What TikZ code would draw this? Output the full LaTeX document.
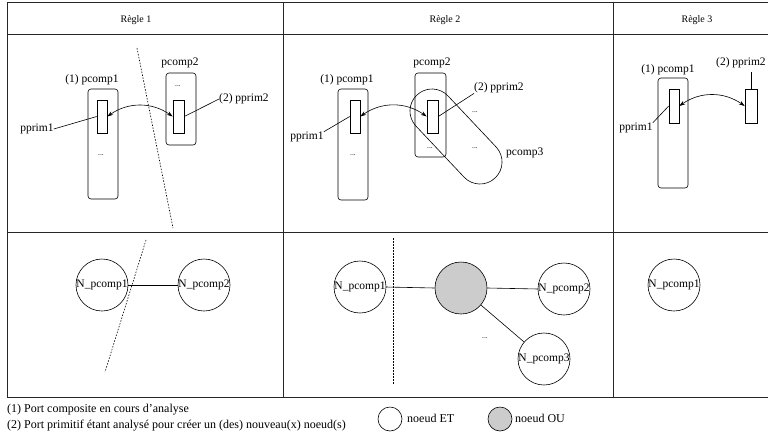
\documentclass[tikz,border=0pt]{standalone}
\usepackage{fontspec}
\setmainfont{Liberation Serif}
\usetikzlibrary{arrows.meta}
\begin{document}
\begin{tikzpicture}[x=1pt,y=-1pt,
  frame/.style={draw=black!85, line width=0.9pt},
  comp/.style={draw, rounded corners=3pt, inner sep=0pt, line width=0.6pt},
  prim/.style={draw, inner sep=0pt, line width=0.6pt},
  lbl/.style={inner sep=0pt, font=\fontsize{11.5}{13}\selectfont},
  hdr/.style={inner sep=0pt, font=\fontsize{10}{12}\selectfont},
  leg/.style={inner sep=0pt, font=\fontsize{12}{14}\selectfont, anchor=west},
  dots/.style={inner sep=0pt, font=\fontsize{7.5}{8}\selectfont},
  lead/.style={line width=0.6pt},
  sep/.style={line width=0.6pt, dash pattern=on 1.5pt off 1.5pt},
  link/.style={line width=0.6pt, {Stealth[length=6pt,width=4pt]}-{Stealth[length=6pt,width=4pt]}, bend left=35},
  etn/.style={draw, circle, minimum size=52pt, inner sep=0pt, line width=0.6pt},
  oun/.style={etn, fill=black!20},
  ntxt/.style={inner sep=0pt, font=\fontsize{11.5}{13}\selectfont},
  edge/.style={line width=0.6pt}
]
\useasboundingbox (0,0) rectangle (768,437);
\begin{scope}
\clip (0,0) rectangle (768,437);
% frame
\draw[frame] (772,2) -- (7,2) -- (7,397) -- (772,397);
\draw[frame] (7,34) -- (772,34);
\draw[frame] (7,232) -- (772,232);
\draw[frame] (283,2) -- (283,397);
\draw[frame] (613,2) -- (613,397);
\end{scope}
\node[hdr] (h1) at (136,20) {Règle 1};
\node[hdr] (h2) at (445,20) {Règle 2};
\node[hdr] (h3) at (697,20) {Règle 3};

% ---------- Rule 1 top
\node[comp, minimum width=30pt, minimum height=110pt] (r1c1) at (103,144) {};
\node[prim, minimum width=10pt, minimum height=33pt] (r1p1) at (102,116.5) {};
\node[comp, minimum width=30pt, minimum height=72pt] (r1c2) at (181,109) {};
\node[prim, minimum width=11pt, minimum height=33pt] (r1p2) at (178.5,116.5) {};
\node[dots] (r1d1) at (101,155) {...};
\node[dots] (r1d2) at (178,86) {...};
\node[lbl] (r1l1) at (92,80) {(1) pcomp1};
\node[lbl] (r1l2) at (180,63) {pcomp2};
\node[lbl, anchor=west] (r1l3) at (219,99) {(2) pprim2};
\node[lbl] (r1l4) at (37,129) {pprim1};
\draw[lead] (r1l4.east) -- (r1p1.west);
\draw[lead] (r1p2.east) -- (r1l3.west);
\draw[link] (r1p1.east) to (r1p2.west);
\coordinate (r1s1) at (137,48);
\coordinate (r1s2) at (173,228);
\draw[sep] (r1s1) -- (r1s2);

% ---------- Rule 2 top
\node[comp, minimum width=30pt, minimum height=111pt] (r2c1) at (353,144.5) {};
\node[prim, minimum width=10pt, minimum height=33pt] (r2p1) at (355,116.5) {};
\node[comp, minimum width=31pt, minimum height=84pt] (r2c2) at (430.5,115) {};
\node[prim, minimum width=11pt, minimum height=33pt] (r2p2) at (432.5,116.5) {};
\node[draw, rounded corners=21.9pt, minimum width=114pt, minimum height=44pt, inner sep=0pt, line width=0.6pt, rotate=-46.7] (r2c3) at (456,136.5) {};
\node[dots] (r2d1) at (353,155) {...};
\node[dots] (r2d2) at (430,148) {...};
\node[dots] (r2d3) at (475,112) {...};
\node[dots] (r2d4) at (475,148) {...};
\node[lbl] (r2l1) at (347,80) {(1) pcomp1};
\node[lbl] (r2l2) at (432,63) {pcomp2};
\node[lbl, anchor=west] (r2l3) at (474,88) {(2) pprim2};
\node[lbl] (r2l4) at (307,137) {pprim1};
\node[lbl, anchor=west] (r2l5) at (506,153) {pcomp3};
\draw[lead] (r2l4.north east) -- (r2p1.west);
\draw[lead] (r2p2.east) -- (r2l3.south west);
\draw[link] (r2p1.east) to (r2p2.west);

% ---------- Rule 3 top
\node[comp, minimum width=30pt, minimum height=110pt] (r3c1) at (673,133) {};
\node[prim, minimum width=10pt, minimum height=34pt] (r3p1) at (674,106) {};
\node[prim, minimum width=12pt, minimum height=34pt] (r3p2) at (751,106) {};
\node[lbl] (r3l1) at (668,70) {(1) pcomp1};
\node[lbl] (r3l4) at (636,128) {pprim1};
\node[lbl, anchor=west] (r3l3) at (716,63) {(2) pprim2};
\coordinate (r3t) at (751,72);
\draw[lead] (r3t) -- (r3p2.north);
\draw[lead] (r3l4.north east) -- (r3p1.west);
\draw[link] (r3p1.east) to (r3p2.west);

% ---------- Rule 1 bottom
\node[etn] (b1n1) at (102,285) {};
\node[ntxt] (b1t1) at (102,285) {N\_pcomp1};
\node[etn] (b1n2) at (204,285) {};
\node[ntxt] (b1t2) at (204,285) {N\_pcomp2};
\draw[edge] (b1t1.east) -- (b1t2.west);
\coordinate (b1s1) at (146,240);
\coordinate (b1s2) at (105,372);
\draw[sep] (b1s1) -- (b1s2);

% ---------- Rule 2 bottom
\node[etn] (b2n1) at (360,287) {};
\node[ntxt] (b2t1) at (360,287) {N\_pcomp1};
\node[oun] (b2g) at (461,288) {};
\node[etn] (b2n2) at (564,289) {};
\node[ntxt] (b2t2) at (564,289) {N\_pcomp2};
\node[etn] (b2n3) at (544,359) {};
\node[ntxt] (b2t3) at (544,359) {N\_pcomp3};
\node[dots] (b2d) at (485,338) {...};
\draw[edge] (b2t1.east) -- (b2g.west);
\draw[edge] (b2g.east) -- (b2t2.west);
\draw[edge] (b2g) -- (b2n3);
\coordinate (b2s1) at (393,238);
\coordinate (b2s2) at (393,385);
\draw[sep] (b2s1) -- (b2s2);

% ---------- Rule 3 bottom
\node[etn] (b3n1) at (674,285) {};
\node[ntxt] (b3t1) at (674,285) {N\_pcomp1};

% ---------- Legend
\node[leg] (g1) at (7,410) {(1) Port composite en cours d’analyse};
\node[leg] (g2) at (7,426) {(2) Port primitif étant analysé pour créer un (des) nouveau(x) noeud(s)};
\node[draw, circle, minimum size=24pt, inner sep=0pt, line width=0.6pt] (ge) at (390,419) {};
\node[leg] (gel) at (407,418) {noeud ET};
\node[draw, circle, fill=black!20, minimum size=24pt, inner sep=0pt, line width=0.6pt] (go) at (500,419) {};
\node[leg] (gol) at (515,418) {noeud OU};
\end{tikzpicture}
\end{document}
